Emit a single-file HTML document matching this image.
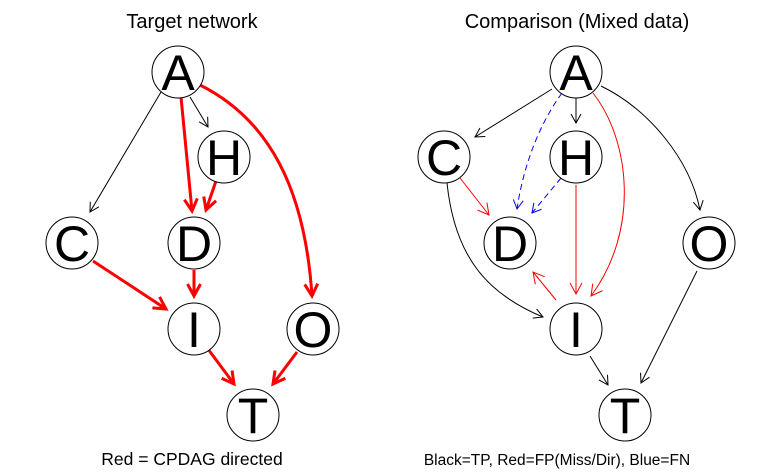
<!DOCTYPE html>
<html><head><meta charset="utf-8"><style>body{margin:0;background:#fff}svg{display:block}text{font-family:"Liberation Sans",sans-serif}</style></head><body>
<svg width="770" height="475" viewBox="0 0 770 475" xmlns="http://www.w3.org/2000/svg">
<defs>
<marker id="ab" markerWidth="12" markerHeight="12" refX="10" refY="6" orient="auto" markerUnits="userSpaceOnUse"><path d="M1,1 L10,6 L1,11" fill="none" stroke="#000" stroke-width="1"/></marker>
<marker id="ar" markerWidth="14" markerHeight="14" refX="12" refY="7" orient="auto" markerUnits="userSpaceOnUse"><path d="M1,1 L12,7 L1,13" fill="none" stroke="#f00" stroke-width="1"/></marker>
<marker id="ablue" markerWidth="12" markerHeight="12" refX="10" refY="6" orient="auto" markerUnits="userSpaceOnUse"><path d="M1,1 L10,6 L1,11" fill="none" stroke="#00f" stroke-width="1"/></marker>
<marker id="art" markerWidth="16" markerHeight="16" refX="13" refY="8" orient="auto" markerUnits="userSpaceOnUse"><path d="M1,1.5 L13,8 L1,14.5" fill="none" stroke="#f00" stroke-width="3"/></marker>
</defs>
<text x="192" y="28" font-size="20" text-anchor="middle">Target network</text>
<text x="577" y="28" font-size="20" text-anchor="middle">Comparison (Mixed data)</text>
<text x="192" y="465" font-size="17.5" text-anchor="middle">Red = CPDAG directed</text>
<text x="557" y="465" font-size="15.5" text-anchor="middle">Black=TP, Red=FP(Miss/Dir), Blue=FN</text>
<g fill="none">
<line x1="161" y1="92" x2="90" y2="212" stroke="#000" marker-end="url(#ab)"/>
<line x1="190" y1="97" x2="208" y2="127" stroke="#000" marker-end="url(#ab)"/>
<g stroke="#f00" stroke-width="3">
<line x1="181" y1="97" x2="192" y2="211" marker-end="url(#art)"/>
<line x1="216" y1="181" x2="206" y2="210" marker-end="url(#art)"/>
<path d="M200,85 C270,120 305,190 312,296" marker-end="url(#art)"/>
<line x1="93" y1="261" x2="166" y2="309" marker-end="url(#art)"/>
<line x1="194" y1="270" x2="194" y2="296" marker-end="url(#art)"/>
<line x1="208" y1="349" x2="234" y2="384" marker-end="url(#art)"/>
<line x1="297" y1="352" x2="273" y2="384" marker-end="url(#art)"/>
</g>
<line x1="552" y1="89" x2="475" y2="137" stroke="#000" marker-end="url(#ab)"/>
<line x1="576" y1="98" x2="576" y2="123" stroke="#000" marker-end="url(#ab)"/>
<path d="M601,86 C650,110 690,160 700,210" stroke="#000" marker-end="url(#ab)"/>
<path d="M447,183 C455,260 490,295 543,317" stroke="#000" marker-end="url(#ab)"/>
<line x1="590" y1="356" x2="608" y2="385" stroke="#000" marker-end="url(#ab)"/>
<line x1="697" y1="271" x2="641" y2="383" stroke="#000" marker-end="url(#ab)"/>
<path d="M562,93 C535,130 522,175 517,209" stroke="#00f" stroke-dasharray="6,4" marker-end="url(#ablue)"/>
<line x1="561" y1="178" x2="532" y2="213" stroke="#00f" stroke-dasharray="6,4" marker-end="url(#ablue)"/>
<g stroke="#f00">
<path d="M593,93 C630,140 640,230 591,296" marker-end="url(#ar)"/>
<line x1="576" y1="185" x2="576" y2="294" marker-end="url(#ar)"/>
<line x1="460" y1="178" x2="489" y2="215" marker-end="url(#ar)"/>
<line x1="556" y1="300" x2="533" y2="272" marker-end="url(#ar)"/>
</g>
</g>
<g fill="#fff" stroke="#000" stroke-width="1">
<circle cx="178" cy="72" r="26"/><circle cx="224" cy="157" r="26"/><circle cx="72" cy="243" r="26"/><circle cx="194" cy="243" r="26"/><circle cx="194" cy="329" r="26"/><circle cx="313" cy="329" r="26"/><circle cx="253" cy="415" r="26"/>
<circle cx="576" cy="72" r="26"/><circle cx="444" cy="157" r="26"/><circle cx="576" cy="157" r="26"/><circle cx="510" cy="243" r="26"/><circle cx="709" cy="243" r="26"/><circle cx="576" cy="329" r="26"/><circle cx="625" cy="415" r="26"/>
</g>
<g font-size="50" text-anchor="middle">
<text x="178" y="90">A</text><text x="224" y="175">H</text><text x="72" y="261">C</text><text x="194" y="261">D</text><text x="194" y="347">I</text><text x="313" y="347">O</text><text x="253" y="433">T</text>
<text x="576" y="90">A</text><text x="444" y="175">C</text><text x="576" y="175">H</text><text x="510" y="261">D</text><text x="709" y="261">O</text><text x="576" y="347">I</text><text x="625" y="433">T</text>
</g>
</svg>
</body></html>
